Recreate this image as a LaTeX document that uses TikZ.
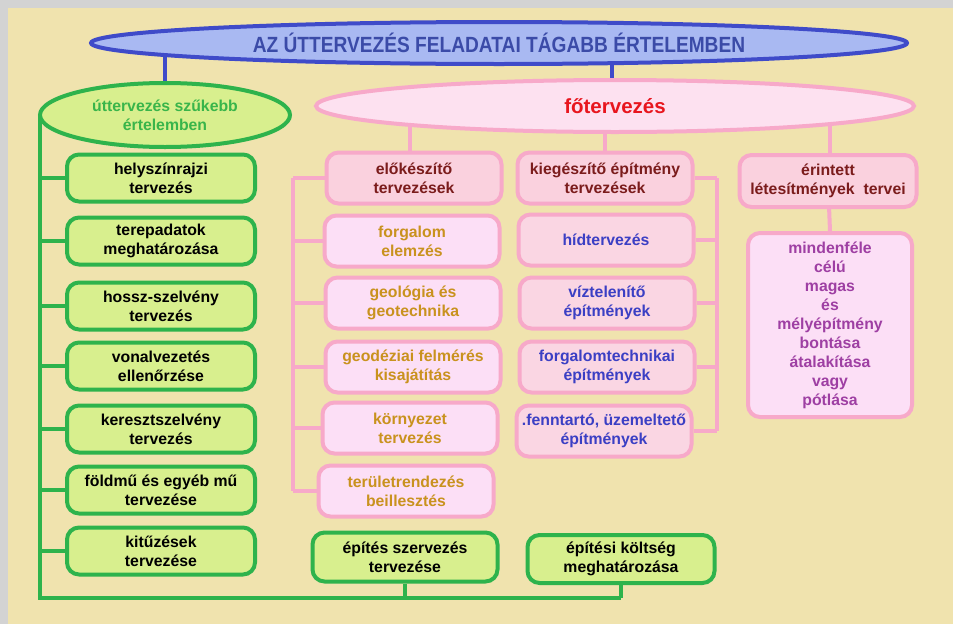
\documentclass[tikz,border=0pt]{standalone}
\usepackage{fontspec}
\setmainfont{Liberation Sans}
\newfontfamily\narrowfont[FakeStretch=0.87]{Liberation Sans}
\usetikzlibrary{shapes.geometric,backgrounds}

\definecolor{framegray}{HTML}{D3D3D3}
\definecolor{paper}{HTML}{F0E3AE}
\definecolor{mainfill}{HTML}{A9B9F2}
\definecolor{mainline}{HTML}{3F4BC9}
\definecolor{maintext}{HTML}{3B4BA8}
\definecolor{grfill}{HTML}{D8EF8E}
\definecolor{grline}{HTML}{2EB34C}
\definecolor{grtext}{HTML}{39B54A}
\definecolor{pkline}{HTML}{F7A9C9}
\definecolor{pkell}{HTML}{FDE1F0}
\definecolor{pkhead}{HTML}{FAD1DE}
\definecolor{pklila}{HTML}{FCDFF6}
\definecolor{pkitem}{HTML}{FAD6E3}
\definecolor{headtext}{HTML}{7B1C1C}
\definecolor{goldtext}{HTML}{C9921E}
\definecolor{bluetext}{HTML}{3B3FC4}
\definecolor{purptext}{HTML}{9E3FA3}
\definecolor{redtext}{HTML}{E8161E}

\begin{document}
\begin{tikzpicture}[x=1pt, y=-1pt,
  every node/.style={align=center, inner sep=0pt, font=\bfseries\fontsize{15.8}{19}\selectfont},
  greenbox/.style={rectangle, rounded corners=12pt, draw=grline, fill=grfill, line width=4pt, minimum width=188pt, minimum height=47pt},
  pinkbox/.style={rectangle, rounded corners=12pt, draw=pkline, line width=4pt, minimum width=175pt, minimum height=51pt},
  greenline/.style={-, line width=4pt, draw=grline},
  pinkline/.style={-, line width=4pt, draw=pkline},
  blueline/.style={-, line width=4pt, draw=mainline}]
\useasboundingbox (0,0) rectangle (953,624);
\begin{scope}[on background layer]
\fill[framegray] (0,0) rectangle (953,624);
\fill[paper] (8,8) rectangle (953,624);
\end{scope}

% top
\node[shape=ellipse, draw=mainline, fill=mainfill, line width=4pt, minimum width=816pt, minimum height=42pt, text=maintext, font=\narrowfont\bfseries\fontsize{22}{24}\selectfont] (main) at (499,43) {AZ ÚTTERVEZÉS FELADATAI TÁGABB ÉRTELEMBEN};
\node[shape=ellipse, draw=grline, fill=grfill, line width=4pt, minimum width=250pt, minimum height=64pt, text=grtext] (szuk) at (165,115) {úttervezés szűkebb\\értelemben};
\node[shape=ellipse, draw=pkline, fill=pkell, line width=4pt, minimum width=598pt, minimum height=52pt, text=redtext, font=\bfseries\fontsize{20.5}{24}\selectfont] (fo) at (615,106) {főtervezés};

% left column
\node[greenbox] (g1) at (161,178) {helyszínrajzi\\tervezés};
\node[greenbox] (g2) at (161,241) {terepadatok\\meghatározása};
\node[greenbox] (g3) at (161,306) {hossz-szelvény\\tervezés};
\node[greenbox] (g4) at (161,366) {vonalvezetés\\ellenőrzése};
\node[greenbox] (g5) at (161,429) {keresztszelvény\\tervezés};
\node[greenbox] (g6) at (161,490) {földmű és egyéb mű\\tervezése};
\node[greenbox] (g7) at (161,551) {kitűzések\\tervezése};

% elokeszito column
\node[pinkbox, fill=pkhead, text=headtext] (e0) at (414,178) {előkészítő\\tervezések};
\node[pinkbox, fill=pklila, text=goldtext] (e1) at (412,241) {forgalom\\elemzés};
\node[pinkbox, fill=pklila, text=goldtext] (e2) at (413,303) {geológia és\\geotechnika};
\node[pinkbox, fill=pklila, text=goldtext] (e3) at (413,367) {geodéziai felmérés\\kisajátítás};
\node[pinkbox, fill=pklila, text=goldtext] (e4) at (410,428) {környezet\\tervezés};
\node[pinkbox, fill=pklila, text=goldtext] (e5) at (406,491) {területrendezés\\beillesztés};

% kiegeszito column
\node[pinkbox, fill=pkhead, text=headtext] (k0) at (605,178) {kiegészítő építmény\\tervezések};
\node[pinkbox, fill=pkitem, text=bluetext] (k1) at (606,240) {hídtervezés};
\node[pinkbox, fill=pkitem, text=bluetext] (k2) at (607,303) {víztelenítő\\építmények};
\node[pinkbox, fill=pkitem, text=bluetext] (k3) at (607,367) {forgalomtechnikai\\építmények};
\node[pinkbox, fill=pkitem, text=bluetext] (k4) at (604,431) {.fenntartó, üzemeltető\\építmények};

% erintett column
\node[pinkbox, fill=pkhead, text=headtext, minimum width=177pt, minimum height=52pt] (r0) at (828,181) {érintett\\létesítmények\ \ tervei};
\node[pinkbox, fill=pklila, text=purptext, minimum width=164pt, minimum height=184pt] (r1) at (830,325) {mindenféle\\célú\\magas\\és\\mélyépítmény\\bontása\\átalakítása\\vagy\\pótlása};

% bottom
\node[greenbox, minimum width=185pt, minimum height=49pt] (b1) at (405,557) {építés szervezés\\tervezése};
\node[greenbox, minimum width=187pt, minimum height=48pt] (b2) at (621,559) {építési költség\\meghatározása};

\coordinate (gbot) at (40,598);
\coordinate (pl) at (293,0);
\coordinate (pr) at (717,0);

\begin{scope}[on background layer]
\path[blueline] (szuk.north |- main.center) edge (szuk.north);
\path[blueline] (612,43 |- main.center) edge (612,43 |- fo.north);
\path[pinkline] (410,0 |- fo.center) edge (410,0 |- e0.north);
\path[pinkline] (k0.north |- fo.center) edge (k0.north);
\path[pinkline] (830,0 |- fo.center) edge (830,0 |- r0.north);
\path[pinkline] (r0.center) edge (r1.north);
% green trunk
\draw[greenline] (szuk.center -| gbot) -- (gbot) -- (b2.south |- gbot);
\path[greenline] (g1.west) edge (g1.west -| gbot);
\path[greenline] (g2.west) edge (g2.west -| gbot);
\path[greenline] (g3.west) edge (g3.west -| gbot);
\path[greenline] (g4.west) edge (g4.west -| gbot);
\path[greenline] (g5.west) edge (g5.west -| gbot);
\path[greenline] (g6.west) edge (g6.west -| gbot);
\path[greenline] (g7.west) edge (g7.west -| gbot);
\path[greenline] (b1.south) edge (b1.south |- gbot);
\path[greenline] (b2.south) edge (b2.south |- gbot);
% pink trunks
\draw[pinkline] (e0.west -| pl) -- (e5.west -| pl);
\path[pinkline] (e0.west) edge (e0.west -| pl);
\path[pinkline] (e1.west) edge (e1.west -| pl);
\path[pinkline] (e2.west) edge (e2.west -| pl);
\path[pinkline] (e3.west) edge (e3.west -| pl);
\path[pinkline] (e4.west) edge (e4.west -| pl);
\path[pinkline] (e5.west) edge (e5.west -| pl);
\draw[pinkline] (k0.east -| pr) -- (k4.east -| pr);
\path[pinkline] (k0.east) edge (k0.east -| pr);
\path[pinkline] (k1.east) edge (k1.east -| pr);
\path[pinkline] (k2.east) edge (k2.east -| pr);
\path[pinkline] (k3.east) edge (k3.east -| pr);
\path[pinkline] (k4.east) edge (k4.east -| pr);
\end{scope}
\end{tikzpicture}
\end{document}
